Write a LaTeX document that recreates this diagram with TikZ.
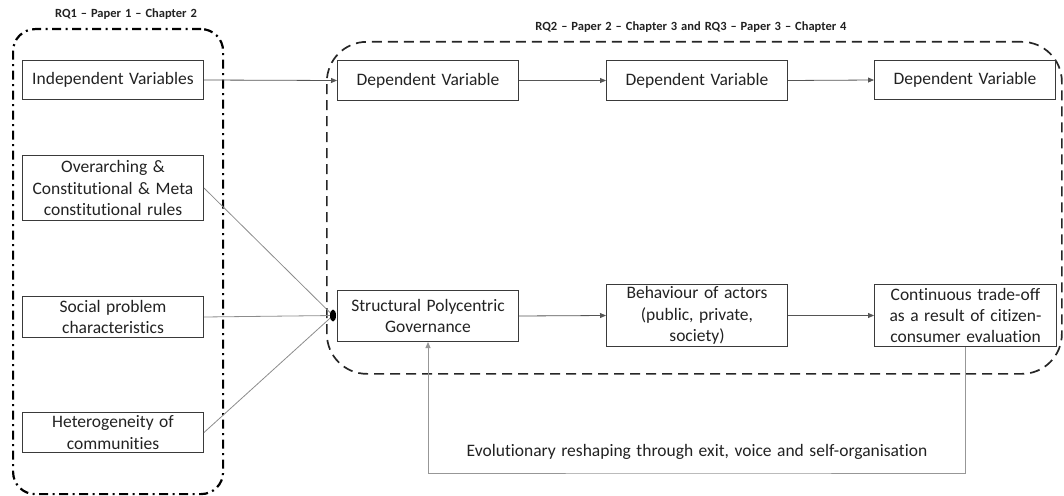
\documentclass[tikz,border=0pt]{standalone}
\usepackage{fontspec}
\setmainfont[WordSpace={1.4,0.6,0.2},Ligatures={NoCommon}]{Carlito}
\usetikzlibrary{arrows.meta}
\definecolor{boxc}{HTML}{3A3A3A}
\definecolor{txt}{HTML}{222222}
\definecolor{conn}{HTML}{8C8C8C}
\definecolor{arrc}{HTML}{555555}
\begin{document}
\begin{tikzpicture}[x=1pt,y=-1pt,
  box/.style={draw=boxc, line width=1pt, minimum width=181pt, inner sep=0pt,
    align=center, anchor=north west, text=txt,
    font=\fontsize{17.5}{21.3}\selectfont},
  lab/.style={font=\fontsize{12.5}{14}\selectfont\bfseries, text=txt, inner sep=0pt},
  arr/.style={draw=arrc, line width=0.8pt, -{Triangle[length=6pt,width=5pt]}},
  conline/.style={draw=conn, line width=0.8pt},
  fbline/.style={draw=conn!90, line width=0.9pt},
  groupA/.style={draw=black, line width=2.2pt, rounded corners=22pt,
    dash pattern=on 9pt off 4.5pt on 2pt off 4.5pt, anchor=north west, inner sep=0pt},
  groupB/.style={draw=black!85, line width=1.7pt, rounded corners=40pt,
    dash pattern=on 10pt off 6pt, anchor=north west, inner sep=0pt}
]
\useasboundingbox (0,0) rectangle (1064,495);

% groups
\node[groupA, minimum width=210pt, minimum height=465pt] (g1) at (12,28) {};
\node[groupB, minimum width=735pt, minimum height=332pt] (g2) at (326,41) {};
\node[lab] (l1) at (126,14) {RQ1 – Paper 1 – Chapter 2};
\node[lab] (l2) at (691,27) {RQ2 – Paper 2 – Chapter 3 and RQ3 – Paper 3 – Chapter 4};

% left boxes
\node[box, minimum height=39pt] (iv) at (22,60) {Independent Variables};
\node[box, minimum height=65pt] (oc) at (22,155) {Overarching \&\\Constitutional \& Meta\\constitutional rules};
\node[box, minimum height=41pt] (sp) at (22,296) {Social problem\\characteristics};
\node[box, minimum height=40pt] (hc) at (22,412) {Heterogeneity of\\communities};

% right boxes
\node[box, minimum height=40pt] (dv1) at (337,60) {Dependent Variable};
\node[box, minimum height=40pt] (dv2) at (606,60) {Dependent Variable};
\node[box, minimum height=39pt] (dv3) at (874,60) {Dependent Variable};
\node[box, minimum height=51pt] (spg) at (337,290) {Structural Polycentric\\Governance};
\node[box, minimum height=62pt] (ba) at (606,284) {Behaviour of actors\\(public, private,\\society)};
\node[box, minimum height=62pt, minimum width=182pt] (ct) at (874,284) {Continuous trade-off\\as a result of citizen-\\consumer evaluation};

% convergence point
\coordinate (cv) at (333,315.5);
\draw[conline] (oc.east) -- (cv);
\draw[conline] (sp.east) -- (cv);
\draw[conline] (hc.east) -- (cv);
\fill[black] (cv) ellipse (3pt and 6pt);

% arrows
\draw[arr] (iv.east) -- (dv1.west);
\draw[arr] (dv1.east) -- (dv2.west);
\draw[arr] (dv2.east) -- (dv3.west);
\draw[arr] (spg.east) -- (ba.west);
\draw[arr] (ba.east) -- (ct.west);

% feedback
\coordinate (fb) at (700,473);
\draw[fbline, -{Triangle[length=6pt,width=5pt]}] (ct.south) |- (fb) -| (spg.south);
\node[font=\fontsize{17.5}{20}\selectfont, text=txt, inner sep=0pt] (fbl) at (697,452)
  {Evolutionary reshaping through exit, voice and self-organisation};
\end{tikzpicture}
\end{document}
